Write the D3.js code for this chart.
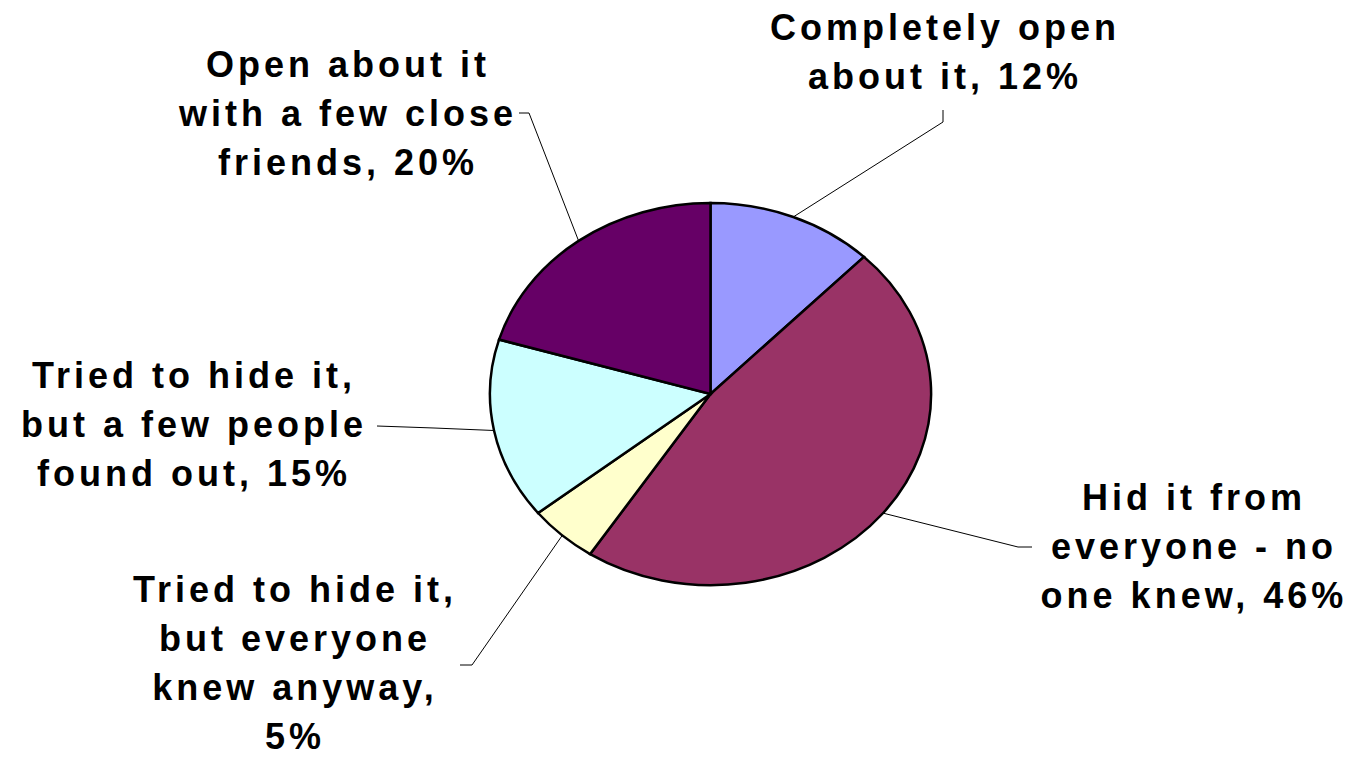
<!DOCTYPE html>
<html>
<head>
<meta charset="utf-8">
<script src="https://cdn.jsdelivr.net/npm/d3@7"></script>
<style>
  body { margin: 0; background: #fff; }
  .label { font-family: "Liberation Sans", Arial, sans-serif; font-weight: bold; font-size: 36px; letter-spacing: 4px; fill: #000; }
  .slice { stroke: #000; stroke-width: 2.5px; vector-effect: non-scaling-stroke; }
  .leader { fill: none; stroke: #000; stroke-width: 1px; }
</style>
</head>
<body>
<svg width="1359" height="757"></svg>
<script>
// slices, clockwise from 12 o'clock
var categories = [
    'Completely open about it',
    'Hid it from everyone - no one knew',
    'Tried to hide it, but everyone knew anyway',
    'Tried to hide it, but a few people found out',
    'Open about it with a few close friends'
];
var values = [12, 46, 5, 15, 20];
var colors = ['#9999FF', '#993366', '#FFFFCC', '#CCFFFF', '#660066'];
var labelLines = [
    ['Completely open', 'about it, 12%'],
    ['Hid it from', 'everyone - no', 'one knew, 46%'],
    ['Tried to hide it,', 'but everyone', 'knew anyway,', '5%'],
    ['Tried to hide it,', 'but a few people', 'found out, 15%'],
    ['Open about it', 'with a few close', 'friends, 20%']
];

// label layout: text centre x, first baseline, and leader elbow/end
var labelPos = [
    {x: 945, y: 40, elbow: [943, 122], end: [943, 110]},
    {x: 1194, y: 510, elbow: [1018, 547], end: [1032, 547]},
    {x: 295, y: 602, elbow: [472, 665], end: [460, 665]},
    {x: 194, y: 388, elbow: [434, 428], end: [377, 426]},
    {x: 348, y: 77, elbow: [529, 113], end: [519, 113]}
];
var lineGap = 49;

var svg = d3.select('svg');
var cx = 710.5, cy = 394, rx = 220.5, ry = 191;

var pie = d3.pie().sort(null).value(function(d) { return d; });
var arcs = pie(values);
var arc = d3.arc().innerRadius(0).outerRadius(1);

var g = svg.append('g')
    .attr('transform', 'translate(' + cx + ',' + cy + ') scale(' + rx + ',' + ry + ')');
g.selectAll('path')
    .data(arcs)
    .enter().append('path')
    .attr('class', 'slice')
    .attr('fill', function(d, i) { return colors[i]; })
    .attr('d', arc);

// leader lines start on the ellipse edge at the slice's mid angle
var line = d3.line();
arcs.forEach(function(d, i) {
    var a = (d.startAngle + d.endAngle) / 2;
    var start = [cx + rx * Math.sin(a), cy - ry * Math.cos(a)];
    var p = labelPos[i];
    svg.append('path')
        .attr('class', 'leader')
        .attr('d', line([start, p.elbow, p.end]));

    var t = svg.append('text')
        .attr('class', 'label')
        .attr('text-anchor', 'middle');
    labelLines[i].forEach(function(s, j) {
        t.append('tspan')
            .attr('x', p.x)
            .attr('y', p.y + j * lineGap)
            .text(s);
    });
});
</script>
</body>
</html>
